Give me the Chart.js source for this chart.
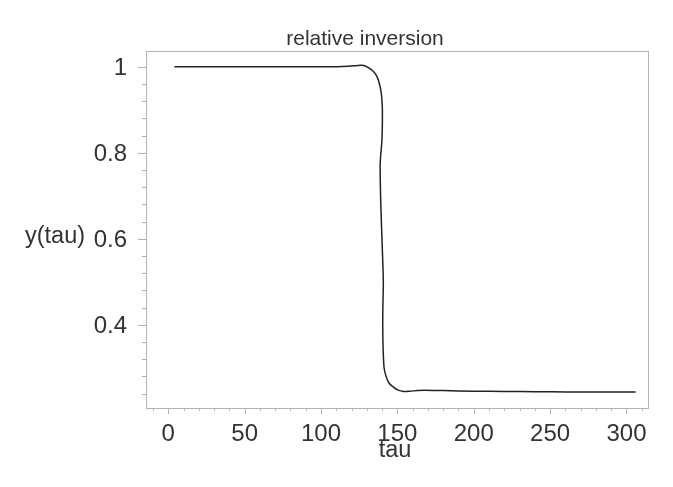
<!DOCTYPE html>
<html>
<head>
<meta charset="utf-8">
<script src="https://cdn.jsdelivr.net/npm/chart.js@4"></script>
<style>
  html, body { margin: 0; padding: 0; background: #fff; }
  #wrap { width: 673px; height: 487px; }
</style>
</head>
<body>
<div id="wrap"><canvas id="chart" width="673" height="487"></canvas></div>
<script>
// ── Data ──
const tau = [4, 30, 60, 90, 110, 118, 124, 128, 131, 134, 136.5, 138.2, 139.4, 140.1, 140.2, 139.9,
  139.0, 138.7, 139.0, 139.5, 140.4, 140.8, 140.5, 140.4, 140.7, 141.3, 142.6, 144.6, 147.4, 150.5,
  154, 158, 163, 168, 180, 200, 220, 240, 261, 285, 306];
const yTau = [1.0, 1.0, 1.0, 1.0, 1.0, 1.001, 1.003, 1.003, 0.998, 0.99, 0.978, 0.961, 0.94, 0.91, 0.88, 0.83,
  0.79, 0.77, 0.70, 0.64, 0.55, 0.50, 0.44, 0.40, 0.34, 0.30, 0.28, 0.264, 0.255, 0.248,
  0.245, 0.2455, 0.247, 0.248, 0.247, 0.2455, 0.245, 0.2445, 0.2438, 0.2437, 0.2435];

const xMajor = [0, 50, 100, 150, 200, 250, 300];
const xMinor = [-10, 10, 20, 30, 40, 60, 70, 80, 90, 110, 120, 130, 140, 160, 170, 180, 190,
  210, 220, 230, 240, 260, 270, 280, 290, 310];
const yMajor = [0.4, 0.6, 0.8, 1];
const yMinor = [0.24, 0.28, 0.32, 0.36, 0.44, 0.48, 0.52, 0.56, 0.64, 0.68, 0.72, 0.76, 0.84, 0.88, 0.92, 0.96];

const titleText = "relative inversion";
const xTitle = "tau";
const yTitle = "y(tau)";

const FONT = "'Liberation Sans', Arial, Helvetica, sans-serif";
const INK = "#333333";
const FRAME = "#b4b4b4";

// ── Frame, ticks and titles ──
const decor = {
  id: "decor",
  afterDraw(chart) {
    const { ctx, chartArea: a, scales: { x, y } } = chart;
    ctx.save();
    ctx.strokeStyle = FRAME;
    ctx.lineWidth = 1;
    ctx.strokeRect(a.left + 0.5, a.top + 0.5, a.right - a.left, a.bottom - a.top);

    ctx.beginPath();
    xMajor.forEach(v => { const p = Math.round(x.getPixelForValue(v)) + 0.5; ctx.moveTo(p, a.bottom); ctx.lineTo(p, a.bottom + 6); });
    xMinor.forEach(v => { const p = Math.round(x.getPixelForValue(v)) + 0.5; ctx.moveTo(p, a.bottom); ctx.lineTo(p, a.bottom + 3); });
    yMajor.forEach(v => { const p = Math.round(y.getPixelForValue(v)) + 0.5; ctx.moveTo(a.left, p); ctx.lineTo(a.left - 8, p); });
    yMinor.forEach(v => { const p = Math.round(y.getPixelForValue(v)) + 0.5; ctx.moveTo(a.left, p); ctx.lineTo(a.left - 4, p); });
    ctx.stroke();

    ctx.fillStyle = INK;
    ctx.textBaseline = "alphabetic";
    ctx.textAlign = "center";
    ctx.font = "21px " + FONT;
    ctx.fillText(titleText, 365, 45);
    ctx.font = "23.5px " + FONT;
    ctx.fillText(xTitle, 395, 457);
    ctx.textAlign = "left";
    ctx.font = "23.5px " + FONT;
    ctx.fillText(yTitle, 25, 243);
    ctx.restore();
  }
};

new Chart(document.getElementById("chart"), {
  type: "line",
  data: {
    datasets: [{
      data: tau.map((t, i) => ({ x: t, y: yTau[i] })),
      borderColor: "#222222", borderWidth: 1.5,
      pointRadius: 0, tension: 0.25, fill: false
    }]
  },
  options: {
    responsive: false, animation: false,
    layout: { padding: { top: 51, right: 25, left: 0, bottom: 0 } },
    plugins: { legend: { display: false }, tooltip: { enabled: false }, title: { display: false } },
    scales: {
      x: {
        type: "linear", min: -14.6, max: 314.1,
        afterBuildTicks: s => { s.ticks = xMajor.map(v => ({ value: v })); },
        afterFit: s => { s.height = 79; },
        grid: { display: false }, border: { display: false },
        ticks: { color: INK, padding: 4, maxRotation: 0, autoSkip: false, font: { family: FONT, size: 24 } }
      },
      y: {
        type: "linear", min: 0.2065, max: 1.0365,
        afterBuildTicks: s => { s.ticks = yMajor.map(v => ({ value: v })); },
        afterFit: s => { s.width = 146; },
        grid: { display: false }, border: { display: false },
        ticks: { color: INK, padding: 11, labelOffset: 2, autoSkip: false, font: { family: FONT, size: 24 },
          callback: v => String(v) }
      }
    }
  },
  plugins: [decor]
});
</script>
</body>
</html>
